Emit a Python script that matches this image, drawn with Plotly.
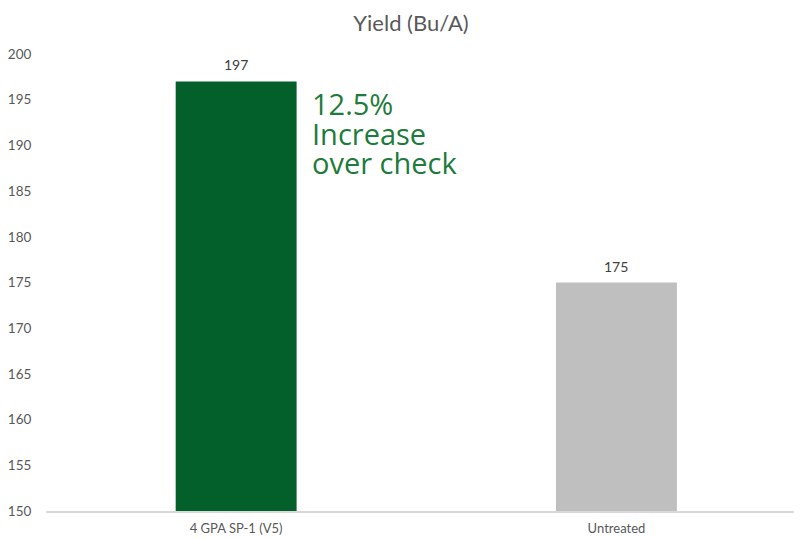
import plotly.graph_objects as go

categories = ["4 GPA SP-1 (V5)", "Untreated"]
values = [197, 175]
bar_colors = ["#03602B", "#BFBFBF"]
title_text = "Yield (Bu/A)"
callout_lines = ["12.5%", "Increase", "over check"]
y_ticks = list(range(150, 201, 5))

axis_font = dict(family="Lato, Noto Sans, sans-serif", size=13.5, color="#595959")

fig = go.Figure()
fig.add_trace(go.Bar(
    x=[0, 1], y=values,
    marker=dict(color=bar_colors, line=dict(width=0)),
    width=0.318,
    hoverinfo="x+y",
))

# value labels above bars
for i, v in enumerate(values):
    fig.add_annotation(x=i, y=v, xref="x", yref="y", text=str(v), showarrow=False,
                       xanchor="center", yanchor="bottom", yshift=6,
                       font=dict(family="Lato, Noto Sans, sans-serif", size=14, color="#404040"))

# callout text
callout_y = [0.892, 0.826, 0.762]
for line, yy in zip(callout_lines, callout_y):
    fig.add_annotation(x=0.351, y=yy, xref="paper", yref="paper", text=line, showarrow=False,
                       xanchor="left", yanchor="middle",
                       font=dict(family="Open Sans, Noto Sans, sans-serif", size=29, color="#1E7B3C"))

fig.update_layout(
    width=794, height=530,
    margin=dict(l=37.5, r=3, t=45.5, b=27, autoexpand=False),
    paper_bgcolor="white", plot_bgcolor="white",
    title=dict(text=title_text, x=0.5076, xanchor="center", y=0.972, yanchor="middle",
               font=dict(family="Lato, Noto Sans, sans-serif", size=22, color="#595959")),
    showlegend=False,
)
fig.update_xaxes(
    range=[-0.5, 1.48], tickvals=[0, 1], ticktext=categories,
    showline=True, linecolor="#D9D9D9", linewidth=1.5, showgrid=False, zeroline=False,
    ticks="outside", ticklen=5, tickcolor="rgba(0,0,0,0)", automargin=False,
    tickfont=dict(family="Lato, Noto Sans, sans-serif", size=13, color="#595959"),
)
fig.update_yaxes(
    range=[150, 200], tickvals=y_ticks, showgrid=False, zeroline=False, showline=False,
    ticks="outside", ticklen=11, tickcolor="rgba(0,0,0,0)", automargin=False,
    tickfont=axis_font,
)

fig.write_html("out.html")
